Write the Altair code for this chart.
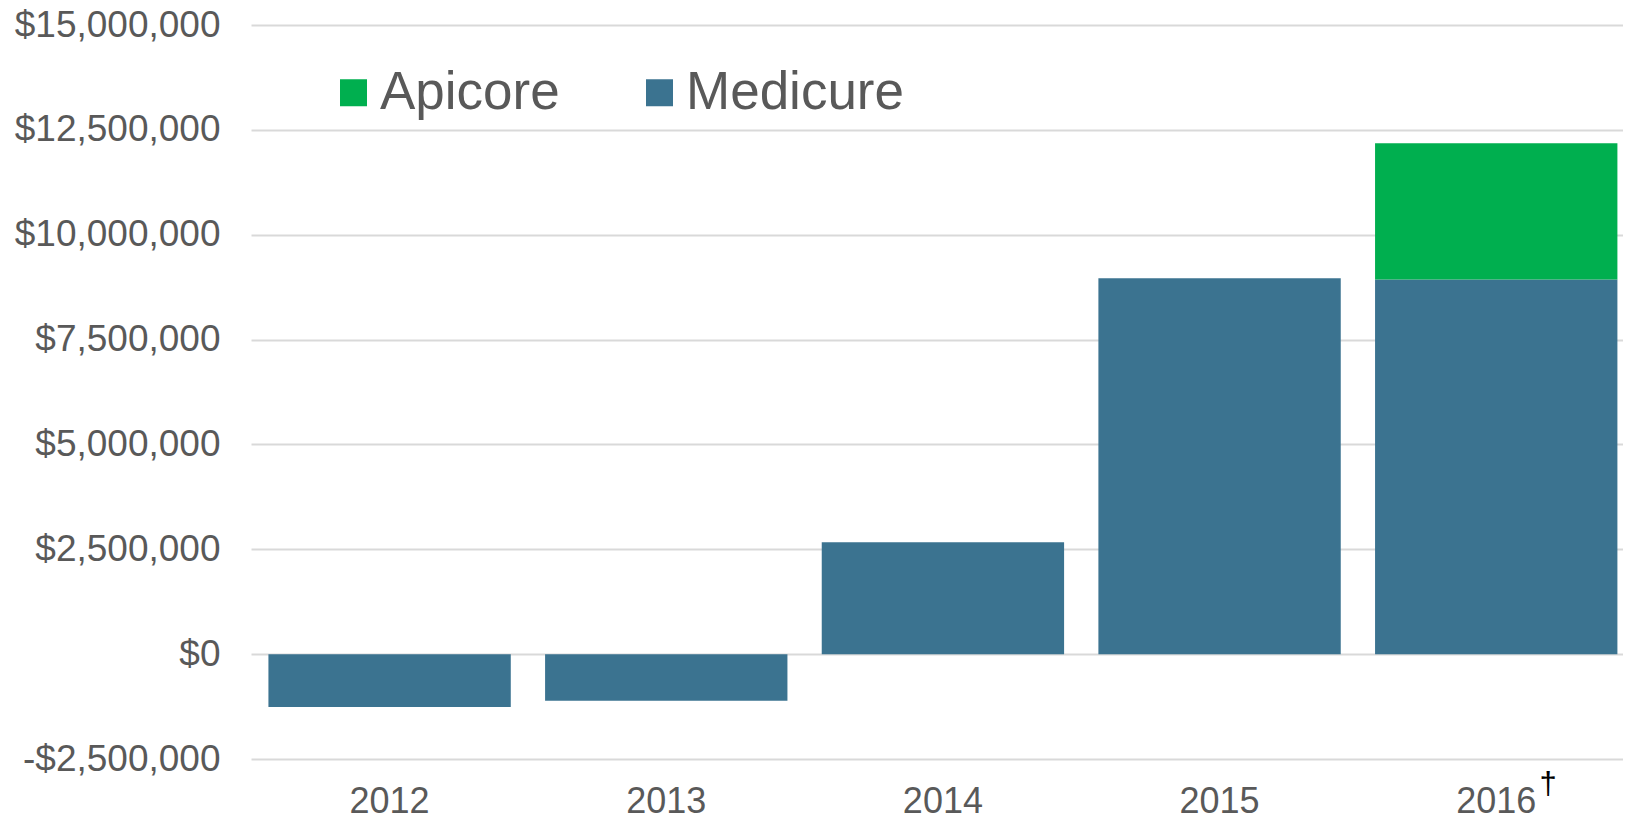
import altair as alt
import pandas as pd

years = ["2012", "2013", "2014", "2015", "2016"]
medicure = [-1260000, -1110000, 2670000, 8960000, 8930000]
apicore = [0, 0, 0, 0, 3250000]
series = ["Apicore", "Medicure"]
colors = ["#00AF4F", "#3B7390"]
y_ticks = [-2500000, 0, 2500000, 5000000, 7500000, 10000000, 12500000, 15000000]

rows = []
for y, m, a in zip(years, medicure, apicore):
    rows.append({"year": y, "company": "Medicure", "value": m, "ord": 0})
    if a != 0:
        rows.append({"year": y, "company": "Apicore", "value": a, "ord": 1})
df = pd.DataFrame(rows)

FONT = "Liberation Sans"
GRAY = "#595959"

bars = alt.Chart(df).mark_bar().encode(
    x=alt.X("year:N", sort=years,
            scale=alt.Scale(paddingInner=0.124, paddingOuter=0.0416, align=0.757),
            axis=alt.Axis(title=None, labelAngle=0, labelFontSize=36, labelFont=FONT,
                          labelColor=GRAY, labelPadding=25, ticks=False, domain=False,
                          grid=False, labelLimit=0)),
    y=alt.Y("value:Q", stack="zero",
            scale=alt.Scale(domain=[-2500000, 15000000], nice=False),
            axis=alt.Axis(title=None, values=y_ticks, labelFontSize=37, labelFont=FONT,
                          labelColor=GRAY, labelPadding=31, ticks=False, domain=False,
                          gridColor="#D9D9D9", gridWidth=2, labelLimit=0,
                          labelExpr="datum.value < 0 ? '-$' + format(-datum.value, ',') : '$' + format(datum.value, ',')")),
    color=alt.Color("company:N", scale=alt.Scale(domain=series, range=colors),
                    legend=alt.Legend(title=None, orient="none", direction="horizontal",
                                      legendX=76, legendY=41, symbolType="square",
                                      symbolSize=729, symbolStrokeWidth=0, labelFontSize=53,
                                      labelFont=FONT, labelColor=GRAY, labelOffset=0,
                                      columnPadding=73, padding=0, labelLimit=0)),
    order=alt.Order("ord:Q"),
)

dagger_df = pd.DataFrame({"year": ["2016"], "t": ["\u2020"]})
dagger = alt.Chart(dagger_df).mark_text(
    font=FONT, fontSize=31, color="#000000", dx=52, align="center", baseline="middle"
).encode(
    x=alt.X("year:N", sort=years),
    y=alt.value(760),
    text="t:N",
)

chart = alt.layer(bars, dagger).properties(
    width=1372, height=734,
    autosize=alt.AutoSizeParams(type="none"),
    padding={"left": 243, "top": 17, "right": 0, "bottom": 54},
).configure_view(stroke=None)

chart.save("out.html", embed_options={"renderer": "svg", "actions": False})
